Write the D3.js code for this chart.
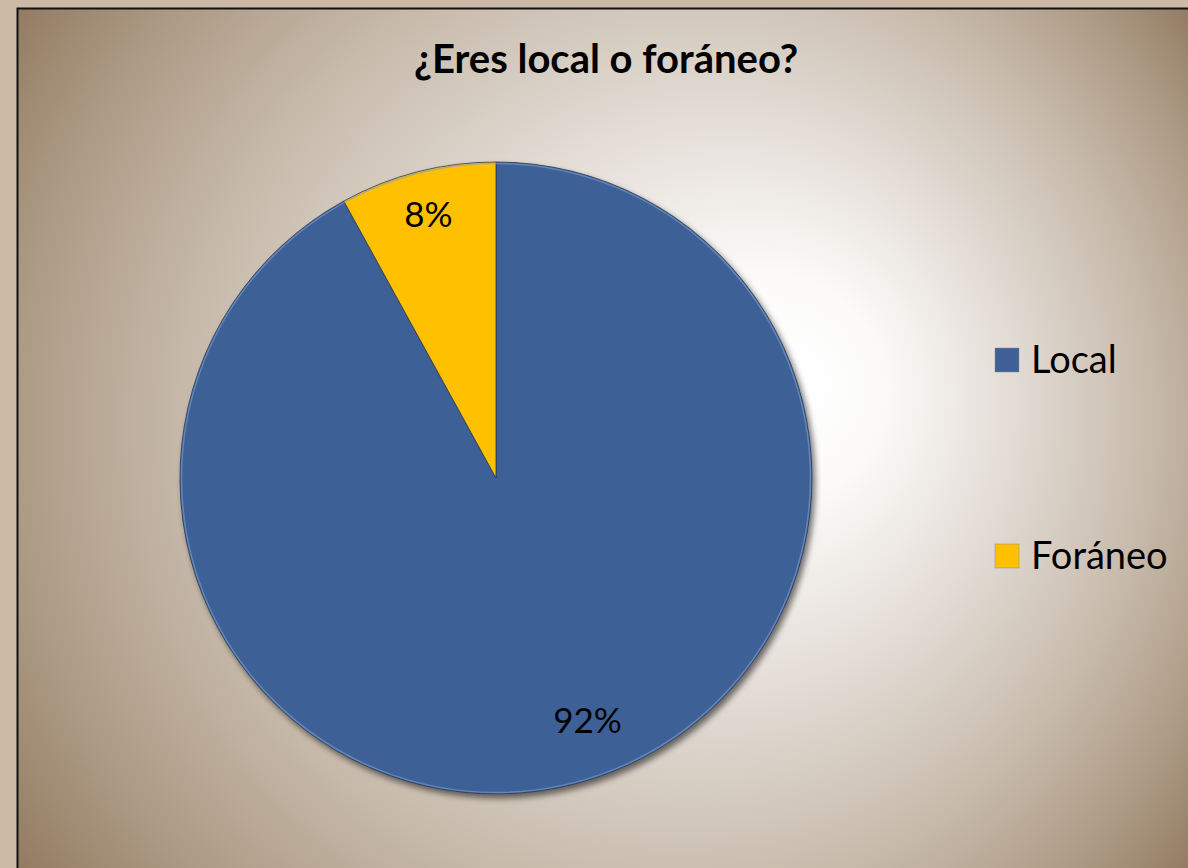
<!DOCTYPE html>
<html>
<head>
<meta charset="utf-8">
<script src="https://cdn.jsdelivr.net/npm/d3@7"></script>
<style>
  html, body { margin: 0; padding: 0; background: #cdbaa6; }
  svg { display: block; }
</style>
</head>
<body>
<div id="chart"></div>
<script>
const WIDTH = 1188;
const HEIGHT = 868;
const FONT = "Lato, 'Open Sans', sans-serif";

const TITLE = "¿Eres local o foráneo?";
const categories = ["Local", "Foráneo"];
const values = [92, 8];
const colors = ["#3e6096", "#ffc000"];

const svg = d3.select("#chart").append("svg")
    .attr("width", WIDTH)
    .attr("height", HEIGHT);

const defs = svg.append("defs");

// fondo radial con foco desplazado
const bg = defs.append("radialGradient")
    .attr("id", "bg")
    .attr("gradientUnits", "userSpaceOnUse")
    .attr("cx", 600).attr("cy", 440).attr("r", 740)
    .attr("fx", 800).attr("fy", 380);
bg.append("stop").attr("offset", 0).attr("stop-color", "#ffffff");
bg.append("stop").attr("offset", 0.15).attr("stop-color", "#fcfbfa");
bg.append("stop").attr("offset", 0.42).attr("stop-color", "#e0d9d1");
bg.append("stop").attr("offset", 0.65).attr("stop-color", "#c7baab");
bg.append("stop").attr("offset", 0.85).attr("stop-color", "#ab9882");
bg.append("stop").attr("offset", 1).attr("stop-color", "#8f775d");

const shadow = defs.append("filter")
    .attr("id", "shadow")
    .attr("x", "-20%").attr("y", "-20%")
    .attr("width", "140%").attr("height", "140%");
shadow.append("feGaussianBlur").attr("in", "SourceAlpha").attr("stdDeviation", 3);
shadow.append("feOffset").attr("dx", 3).attr("dy", 4).attr("result", "off");
shadow.append("feComponentTransfer").append("feFuncA").attr("type", "linear").attr("slope", 0.55);
const merge = shadow.append("feMerge");
merge.append("feMergeNode");
merge.append("feMergeNode").attr("in", "SourceGraphic");

// marco
svg.append("rect")
    .attr("x", 17.5).attr("y", 8.5)
    .attr("width", WIDTH).attr("height", HEIGHT)
    .attr("fill", "url(#bg)")
    .attr("stroke", "#111")
    .attr("stroke-width", 2);

// titulo
svg.append("text")
    .attr("x", 606).attr("y", 73)
    .attr("text-anchor", "middle")
    .attr("font-family", FONT)
    .attr("font-weight", "bold")
    .attr("font-size", 40)
    .attr("fill", "#000")
    .text(TITLE);

// pie
const cx = 496, cy = 478, radius = 316;
const data = categories.map((c, i) => ({ name: c, value: values[i], color: colors[i] }));

const pie = d3.pie().sort(null).value(d => d.value);
const arc = d3.arc().innerRadius(0).outerRadius(radius);

const g = svg.append("g").attr("transform", `translate(${cx},${cy})`);

const arcs = pie(data);

g.append("g").attr("filter", "url(#shadow)")
    .selectAll("path")
    .data(arcs)
    .enter().append("path")
    .attr("d", arc)
    .attr("fill", d => d.data.color)
    .attr("stroke", "#2c3a4f")
    .attr("stroke-width", 0.8);

// borde claro (bisel)
g.append("circle")
    .attr("r", radius - 1.5)
    .attr("fill", "none")
    .attr("stroke", "#7f9fd0")
    .attr("stroke-opacity", 0.6)
    .attr("stroke-width", 1.5);

// etiquetas (ajuste tipo "mejor ajuste": la grande se corre un poco)
function labelPos(d) {
    const big = d.endAngle - d.startAngle > Math.PI;
    const a = (d.startAngle + d.endAngle) / 2 + (big ? -0.11 : 0);
    const r = radius * (big ? 0.82 : 0.86);
    return [Math.sin(a) * r, -Math.cos(a) * r];
}

g.selectAll(".lbl")
    .data(arcs)
    .enter().append("text")
    .attr("class", "lbl")
    .attr("transform", d => `translate(${labelPos(d)})`)
    .attr("text-anchor", "middle")
    .attr("dy", "0.35em")
    .attr("font-family", FONT)
    .attr("font-size", 35)
    .attr("fill", "#000")
    .text(d => d.data.value + "%");

// leyenda
const legend = svg.append("g").attr("transform", "translate(995,0)");
const legendY = d3.scalePoint().domain(categories).range([360, 556]);
const items = legend.selectAll(".item")
    .data(data)
    .enter().append("g")
    .attr("class", "item")
    .attr("transform", d => `translate(0,${legendY(d.name)})`);
items.append("rect")
    .attr("x", 0).attr("y", -12)
    .attr("width", 24).attr("height", 24)
    .attr("fill", d => d.color)
    .attr("stroke", "#8a8a8a")
    .attr("stroke-width", 0.5);
items.append("text")
    .attr("x", 36).attr("y", 0)
    .attr("dy", "0.35em")
    .attr("font-family", FONT)
    .attr("font-size", 38)
    .attr("fill", "#000")
    .text(d => d.name);
</script>
</body>
</html>
